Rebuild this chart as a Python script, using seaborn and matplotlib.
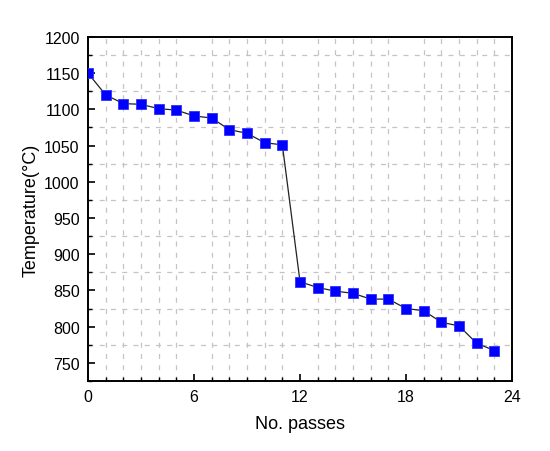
import numpy as np
import pandas as pd
import matplotlib
matplotlib.use("Agg")
import matplotlib.pyplot as plt
from matplotlib.ticker import MultipleLocator
import seaborn as sns

# data
passes = list(range(24))
temperature = [1150, 1120, 1108, 1107, 1101, 1099, 1091, 1088, 1072, 1067, 1054, 1051,
               862, 854, 849, 846, 838, 838, 825, 822, 806, 801, 777, 767]

df = pd.DataFrame({"passes": passes, "temperature": temperature})

sns.set_style("white", {"text.color": "black", "axes.labelcolor": "black",
                        "xtick.color": "black", "ytick.color": "black"})
plt.rcParams["font.family"] = ["Liberation Sans", "DejaVu Sans"]

fig = plt.figure(figsize=(5.5, 4.52), dpi=100)
ax = fig.add_axes([0.16, 0.155, 0.771, 0.761])

sns.lineplot(data=df, x="passes", y="temperature", ax=ax, color="#222222", linewidth=0.9,
             marker="s", markersize=7, markerfacecolor="#0000ff", markeredgecolor="#3030ff",
             markeredgewidth=0.6, zorder=3)

ax.set_xlim(0, 24)
ax.set_ylim(725, 1200)
ax.xaxis.set_major_locator(MultipleLocator(6))
ax.xaxis.set_minor_locator(MultipleLocator(1))
ax.yaxis.set_major_locator(MultipleLocator(50))
ax.yaxis.set_minor_locator(MultipleLocator(25))
ax.set_yticks(np.arange(750, 1201, 50))

# only minor grid, dashed grey
ax.grid(False, which="major")
ax.grid(True, which="minor", linestyle=(0, (4, 5)), color="#c4c4c4", linewidth=0.9)

ax.tick_params(axis="both", which="major", direction="in", length=5, width=1.2,
               labelsize=11.5, top=False, right=False, bottom=True, left=True, pad=6)
ax.tick_params(axis="both", which="minor", direction="in", length=3, width=1.0,
               top=False, right=False, bottom=True, left=True)

for s in ax.spines.values():
    s.set_linewidth(1.4)
    s.set_color("black")

ax.set_xlabel("No. passes", fontsize=13, labelpad=8)
ax.set_ylabel("Temperature(°C)", fontsize=13, labelpad=3)

fig.savefig("out.png", dpi=100)
